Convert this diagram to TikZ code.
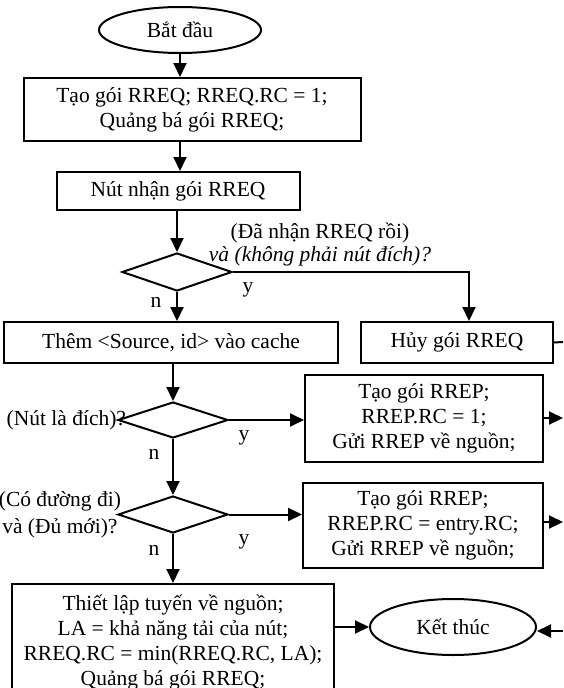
\documentclass[tikz,border=0pt]{standalone}
\usepackage{fontspec}
\setmainfont{Liberation Serif}
\usetikzlibrary{arrows.meta,calc,shapes.geometric}

\begin{document}
\begin{tikzpicture}[x=1pt,y=-1pt,line width=2pt,>={Triangle[length=14pt,width=13pt]},
    font=\fontsize{21.5}{25}\selectfont,
    box/.style={draw,inner sep=0pt,align=center},
    term/.style={draw,ellipse,inner sep=0pt},
    dec/.style={draw,diamond,inner sep=0pt,minimum width=110pt},
    lbl/.style={inner sep=0pt,align=center}]
        \clip (0,0) rectangle (563,688);
        \node[term,minimum width=162pt,minimum height=46pt] (start) at (180,30) {Bắt đầu};
        \node[box,minimum width=337pt,minimum height=63pt] (mkreq) at (192,109.5) {Tạo gói RREQ; RREQ.RC = 1;\\ Quảng bá gói RREQ;};
        \node[box,minimum width=243pt,minimum height=38pt] (recv) at (178,191) {Nút nhận gói RREQ};
        \node[dec,minimum height=38pt] (dup) at (177,272) {};
        \node[lbl] (dupq) at (320,245) {(Đã nhận RREQ rồi)\\[-2pt] \textit{và (không phải nút đích)?}};
        \node[box,minimum width=334pt,minimum height=41pt] (cache) at (171,342.5) {Thêm <Source, id> vào cache};
        \node[box,minimum width=192pt,minimum height=41pt] (drop) at (457,342.5) {Hủy gói RREQ};
        \node[dec,minimum height=36pt] (dest) at (173,420) {};
        \node[lbl,anchor=east] (destq) at ([xshift=10pt]dest.west) {(Nút là đích)?};
        \node[box,minimum width=238pt,minimum height=87pt] (rep1) at (424,418.5) {Tạo gói RREP;\\ RREP.RC = 1;\\ Gửi RREP về nguồn;};
        \node[dec,minimum height=37pt] (route) at (173,514.5) {};
        \node[lbl,anchor=east] (routeq) at ([xshift=5pt]route.west) {(Có đường đi)\\[2pt] và (Đủ mới)?};
        \node[box,minimum width=240pt,minimum height=85pt] (rep2) at (423,525.5) {Tạo gói RREP;\\ RREP.RC = entry.RC;\\ Gửi RREP về nguồn;};
        \node[box,minimum width=322pt,minimum height=118pt] (fwd) at (173,643) {Thiết lập tuyến về nguồn;\\ LA = khả năng tải của nút;\\ RREQ.RC = min(RREQ.RC, LA);\\ Quảng bá gói RREQ;};
        \node[term,minimum width=166pt,minimum height=56pt] (stop) at (453,627) {Kết thúc};
        \coordinate (j1) at (469,272);
        \coordinate (r4) at (563,342);
        \coordinate (r5) at (563,418);
        \coordinate (r6) at (563,522);
        \coordinate (r7) at (563,631);
        \foreach \t/\p in {y/{248,290},n/{156,302},y/{244,438},n/{154,454},y/{244,542},n/{154,550}}
          \node[lbl] at (\p) {\t};
        \draw[->] (start.south) -- (start.south |- mkreq.north);
        \draw[->] (mkreq.south -| start.south) -- (recv.north -| start.south);
        \draw[->] (recv.south -| dup.north) -- (dup.north);
        \draw[->] (dup.south) -- (dup.south |- cache.north);
        \draw[->] (dup.east) -- (j1) -- (j1 |- drop.north);
        \draw (drop.east) -- (r4);
        \draw[->] (cache.south -| dest.north) -- (dest.north);
        \draw[->] (dest.east) -- (dest.east -| rep1.west);
        \draw[->] (rep1.east |- r5) -- (r5);
        \draw[->] (dest.south) -- (route.north);
        \draw[->] (route.east) -- (route.east -| rep2.west);
        \draw[->] (rep2.east |- r6) -- (r6);
        \draw[->] (route.south) -- (route.south |- fwd.north);
        \draw[->] (fwd.east |- stop) -- (stop.west);
        \draw[->] (r7) -- (r7 -| stop.east);
      \end{tikzpicture}
\end{document}
